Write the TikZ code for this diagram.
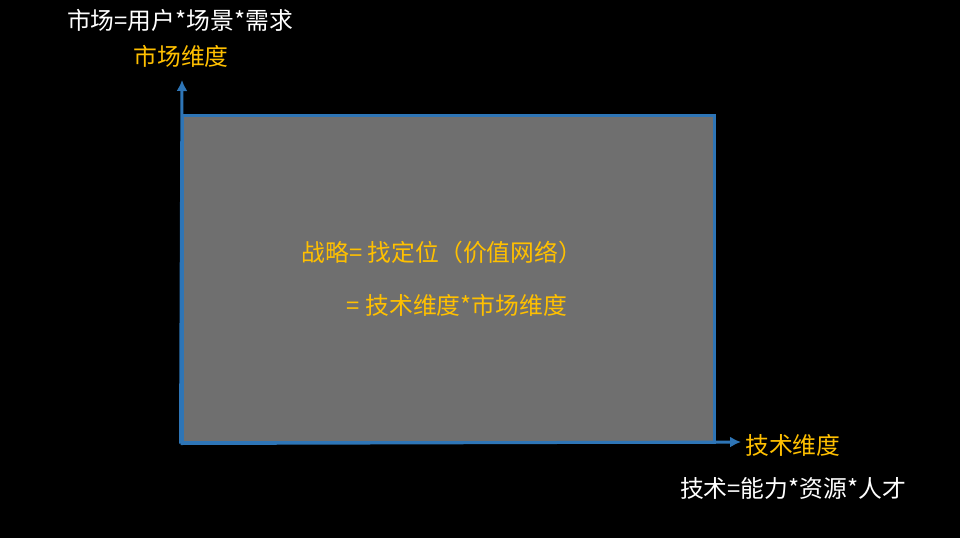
\documentclass[tikz,border=0pt]{standalone}
\usepackage{fontspec}
\setmainfont{Noto Sans CJK SC}
\usetikzlibrary{arrows.meta}
\definecolor{axisblue}{HTML}{2E75B6}
\definecolor{fieldgray}{HTML}{6F6F6F}
\definecolor{dimyellow}{HTML}{FFC000}

\begin{document}
\begin{tikzpicture}[x=1pt,y=-1pt,
   every node/.style={inner sep=0pt,font=\fontsize{23.8}{28}\selectfont},
   whitetext/.style={text=white},
   yellowtext/.style={text=dimyellow},
   axis/.style={axisblue,line width=3pt,-{Latex[length=11pt,width=11pt]}}]

\useasboundingbox[fill=black] (0,0) rectangle (960,538);

\node[draw=axisblue,line width=3pt,fill=fieldgray,
      minimum width=532pt,minimum height=327pt] (field) at (448,278.5) {};
\coordinate (ytip) at (182,80);
\coordinate (xtip) at (741,442);
\draw[axis] (field.south west) -- (ytip);
\draw[axis] (field.south west) -- (xtip);

\node[whitetext] (marketdef) at (180,20) {市场=用户*场景*需求};
\node[yellowtext] (marketdim) at (181,56) {市场维度};
\node[yellowtext] (strategy) at (442,252) {战略= 找定位（价值网络）};
\node[yellowtext] (product) at (457,305) {= 技术维度*市场维度};
\node[yellowtext,anchor=west] (techdim) at (745,445) {技术维度};
\node[whitetext] (techdef) at (793,488) {技术=能力*资源*人才};

\end{tikzpicture}
\end{document}
